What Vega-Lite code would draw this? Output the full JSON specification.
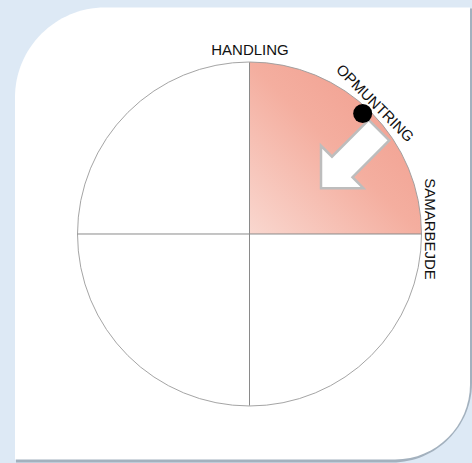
{
  "$schema": "https://vega.github.io/schema/vega-lite/v6.json",
  "width": 472,
  "height": 463,
  "padding": 0,
  "autosize": {"type": "fit", "contains": "padding"},
  "background": "#dde9f5",
  "config": {"view": {"stroke": null}},
  "encoding": {
    "x": {"field": "x", "type": "quantitative", "axis": null, "scale": {"domain": [-1.4506, 1.2936], "nice": false, "zero": false}},
    "y": {"field": "y", "type": "quantitative", "axis": null, "scale": {"domain": [-1.3285, 1.3634], "nice": false, "zero": false}}
  },
  "layer": [
    {
      "data": {"values": [{"x": -1.3575, "y": 1.3140, "x2": 1.2936, "y2": -1.3314}]},
      "mark": {"type": "rect", "fill": "#8f9dab", "opacity": 0.75, "cornerRadiusTopLeft": 90, "cornerRadiusBottomRight": 80},
      "encoding": {"x2": {"field": "x2"}, "y2": {"field": "y2"}}
    },
    {
      "data": {"values": [{"x": -1.3634, "y": 1.3198, "x2": 1.282, "y2": -1.314}]},
      "mark": {"type": "rect", "fill": "#ffffff", "cornerRadiusTopLeft": 90, "cornerRadiusBottomRight": 75},
      "encoding": {"x2": {"field": "x2"}, "y2": {"field": "y2"}}
    },
    {
      "data": {"values": [{"x": 0, "y": 0, "quadrant": "top-right"}]},
      "mark": {
        "type": "arc",
        "radius": 172,
        "theta": 0,
        "theta2": 1.5708,
        "fill": {
          "gradient": "linear",
          "x1": 0, "y1": 1, "x2": 1, "y2": 0,
          "stops": [
            {"offset": 0, "color": "#f9d7cf"},
            {"offset": 0.5, "color": "#f4ae9f"},
            {"offset": 1, "color": "#f0998a"}
          ]
        }
      }
    },
    {
      "data": {"values": [{"x": 0, "y": 0}]},
      "mark": {"type": "point", "shape": "circle", "size": 118336, "filled": false, "stroke": "#9a9a9a", "strokeWidth": 0.9, "opacity": 1}
    },
    {
      "data": {"values": [
        {"x": -1, "y": 0, "x2": 1, "y2": 0},
        {"x": 0, "y": -1, "x2": 0, "y2": 1}
      ]},
      "mark": {"type": "rule", "stroke": "#8a8a8a", "strokeWidth": 1},
      "encoding": {"x2": {"field": "x2"}, "y2": {"field": "y2"}}
    },
    {
      "data": {"values": [{"x": 0.6134, "y": 0.4651}]},
      "mark": {
        "type": "point",
        "shape": "M-0.68,0.68 L-0.68,-0.168 L-0.46,0.05 L0.274,-0.684 L0.684,-0.274 L-0.05,0.46 L0.168,0.68 Z",
        "size": 10000,
        "filled": true,
        "fill": "#ffffff",
        "stroke": "#bdbdbd",
        "strokeWidth": 2.5,
        "opacity": 1
      }
    },
    {
      "data": {"values": [{"x": 0.658, "y": 0.702}]},
      "mark": {"type": "point", "shape": "circle", "size": 361, "filled": true, "color": "#000000", "opacity": 1}
    },
    {
      "data": {"values": [{"x": 0.003, "y": 1.0727, "label": "HANDLING"}]},
      "mark": {"type": "text", "font": "Liberation Sans", "fontSize": 15, "color": "#111111", "align": "center", "baseline": "middle", "angle": 0},
      "encoding": {"text": {"field": "label"}}
    },
    {
      "data": {"values": [{"x": 0.7297, "y": 0.7616, "label": "OPMUNTRING"}]},
      "mark": {"type": "text", "font": "Liberation Sans", "fontSize": 15, "color": "#111111", "align": "center", "baseline": "middle", "angle": 45},
      "encoding": {"text": {"field": "label"}}
    },
    {
      "data": {"values": [{"x": 1.0494, "y": 0.029, "label": "SAMARBEJDE"}]},
      "mark": {"type": "text", "font": "Liberation Sans", "fontSize": 15, "color": "#111111", "align": "center", "baseline": "middle", "angle": 90},
      "encoding": {"text": {"field": "label"}}
    }
  ]
}
